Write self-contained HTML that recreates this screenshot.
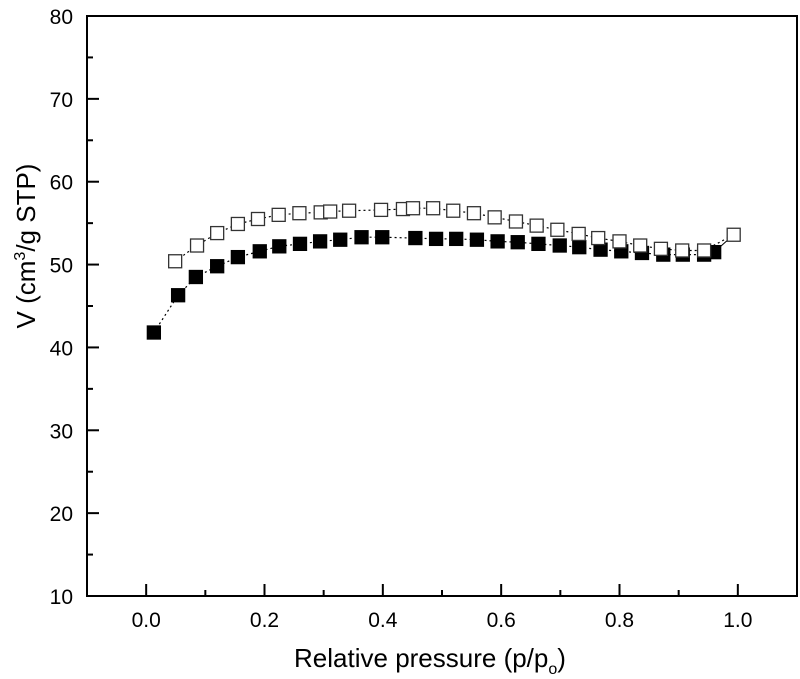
<!DOCTYPE html>
<html><head><meta charset="utf-8"><style>
html,body{margin:0;padding:0;background:#fff;}
svg{display:block;font-family:"Liberation Sans",Arial,sans-serif;}
</style></head><body>
<svg id="chart" width="800" height="679" xmlns="http://www.w3.org/2000/svg"></svg>
<script>
const xTicks=[0.0,0.2,0.4,0.6,0.8,1.0];
const xTickLabels=["0.0","0.2","0.4","0.6","0.8","1.0"];
const yTicks=[10,20,30,40,50,60,70,80];
const yTickLabels=["10","20","30","40","50","60","70","80"];
const adsP=[0.013,0.054,0.084,0.120,0.155,0.192,0.225,0.260,0.294,0.328,0.364,0.399,0.455,0.490,0.524,0.559,0.594,0.628,0.663,0.699,0.732,0.768,0.803,0.838,0.874,0.907,0.943,0.960];
const adsV=[41.8,46.3,48.5,49.8,50.9,51.6,52.2,52.5,52.8,53.0,53.3,53.3,53.2,53.1,53.1,53.0,52.8,52.7,52.5,52.3,52.1,51.8,51.6,51.4,51.2,51.2,51.2,51.5];
const desP=[0.049,0.086,0.120,0.155,0.189,0.224,0.259,0.295,0.311,0.343,0.397,0.434,0.451,0.485,0.519,0.554,0.589,0.625,0.660,0.695,0.731,0.764,0.800,0.835,0.870,0.906,0.943,0.993];
const desV=[50.4,52.3,53.8,54.9,55.5,56.0,56.2,56.3,56.4,56.5,56.6,56.7,56.8,56.8,56.5,56.2,55.7,55.2,54.7,54.2,53.7,53.2,52.8,52.3,51.9,51.7,51.7,53.6];

const L=87,R=797,T=16,B=596,xmin=-0.1,xmax=1.1,ymin=10,ymax=80;
const sx=v=>L+(v-xmin)/(xmax-xmin)*(R-L);
const sy=v=>B-(v-ymin)/(ymax-ymin)*(B-T);
const svg=document.getElementById('chart');
const NS='http://www.w3.org/2000/svg';
function mk(tag,attrs,parent){const e=document.createElementNS(NS,tag);for(const k in attrs)e.setAttribute(k,attrs[k]);(parent||svg).appendChild(e);return e;}

function series(P,V,name,fill){
  const g=mk('g',{});
  
  
  const pts=P.map((p,i)=>sx(p).toFixed(1)+','+sy(V[i]).toFixed(1)).join(' ');
  const pl=mk('polyline',{points:pts,fill:'none',stroke:'#000','stroke-width':1.2,'stroke-dasharray':'2,3'},g);
  
  
  P.forEach((p,i)=>{
    const r=mk('rect',{x:sx(p)-6.5,y:sy(V[i])-6.5,width:13,height:13,fill:fill,stroke:fill==='#000'?'#000':'#333','stroke-width':1.3},g);
    
    
  });
  return g;
}
const c=mk('line',{x1:sx(adsP[adsP.length-1]),y1:sy(adsV[adsV.length-1]),x2:sx(desP[desP.length-1]),y2:sy(desV[desV.length-1]),stroke:'#000','stroke-width':1});


series(adsP,adsV,'adsorption-series','#000');
series(desP,desV,'desorption-series','#fff');

const f=mk('rect',{x:L,y:T,width:R-L,height:B-T,fill:'none',stroke:'#000','stroke-width':2});



for(let v=0;v<=1.0001;v+=0.1){
  const major=Math.round(v*10)%2===0;
  const t=mk('line',{x1:sx(v),x2:sx(v),y1:B,y2:B-(major?12:6),stroke:'#000','stroke-width':2});
  
  
}
xTicks.forEach((v,i)=>{
  const t=mk('text',{x:sx(v),y:627,'font-size':21,'text-anchor':'middle'});
  t.textContent=xTickLabels[i];
  
  
});
for(let v=10;v<=80;v+=5){
  const major=v%10===0;
  const t=mk('line',{x1:L,x2:L+(major?12:6),y1:sy(v),y2:sy(v),stroke:'#000','stroke-width':2});
  
  
}
yTicks.forEach((v,i)=>{
  const t=mk('text',{x:73,y:sy(v)+8,'font-size':21,'text-anchor':'end'});
  t.textContent=yTickLabels[i];
  
  
});
</script>
<svg style="position:absolute;left:0;top:0" width="800" height="679" xmlns="http://www.w3.org/2000/svg">
<text x="430" y="667" font-size="26" text-anchor="middle" font-family="Liberation Sans, Arial, sans-serif">Relative pressure (p/p<tspan font-size="16" dy="7">o</tspan><tspan dy="-7">)</tspan></text>
<text transform="translate(35,246) rotate(-90)" font-size="26" text-anchor="middle" font-family="Liberation Sans, Arial, sans-serif">V (cm<tspan font-size="16" dy="-10">3</tspan><tspan dy="10">/g STP)</tspan></text>
</svg>
</body></html>
